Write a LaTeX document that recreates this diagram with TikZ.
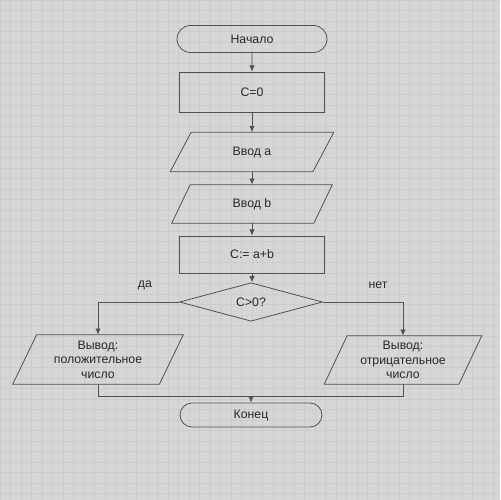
\documentclass[tikz,border=0pt]{standalone}
\usepackage{fontspec}
\setmainfont{Liberation Sans}
\usetikzlibrary{shapes.geometric,shapes.misc,calc,arrows.meta}
\definecolor{bg}{RGB}{214,215,213}
\definecolor{gridc}{RGB}{202,206,203}
\definecolor{ln}{RGB}{78,80,82}
\definecolor{txt}{RGB}{40,40,42}
\begin{document}
\begin{tikzpicture}[x=0.02cm,y=-0.02cm,
  every node/.style={font=\fontsize{7}{8.3}\selectfont, text=txt},
  line/.style={draw=ln, line width=0.45pt},
  arr/.style={line, -{Latex[length=3.5pt,width=3pt]}},
  termbox/.style={rounded rectangle, line, inner sep=0pt},
  procbox/.style={rectangle, line, inner sep=0pt},
  iobox/.style={rectangle, draw=none, inner sep=0pt, align=center},
  decbox/.style={diamond, line, inner sep=0pt}
]
\useasboundingbox (0,0) rectangle (500,500);
\fill[bg] (0,0) rectangle (500,500);
\foreach \i in {0,10.5,...,500} {
  \draw[gridc, line width=0.3pt] (\i,0) -- (\i,500);
  \draw[gridc, line width=0.3pt] (0,\i) -- (500,\i);
}

\node[termbox, minimum width=3.0cm, minimum height=0.54cm] (start) at (252,39) {Начало};
\node[procbox, minimum width=2.9cm, minimum height=0.8cm] (c0) at (252,92) {C=0};
\node[iobox, minimum width=2.84cm, minimum height=0.78cm] (va) at (252,152) {Ввод a};
\node[iobox, minimum width=2.83cm, minimum height=0.76cm] (vb) at (252,204) {Ввод b};
\node[procbox, minimum width=2.9cm, minimum height=0.74cm] (cab) at (252,254.5) {C:= a+b};
\node[decbox, minimum width=2.86cm, minimum height=0.56cm] (dia) at (251,302) {C>0?};
\node[iobox, minimum width=2.92cm, minimum height=0.98cm] (outL) at (98,359.5) {Вывод:\\положительное\\число};
\node[iobox, minimum width=2.68cm, minimum height=0.96cm] (outR) at (403,360) {Вывод:\\отрицательное\\число};
\node[termbox, minimum width=2.84cm, minimum height=0.48cm] (fin) at (251,415) {Конец};
\coordinate (merge) at (251,396);

\node (yes) at (145,285) {да};
\node (no) at (378,285) {нет};

\foreach \n/\s in {va/10.5, vb/9.25, outL/12, outR/11.5}
  \draw[line] ($(\n.north west)+(\s,0)$) -- ($(\n.north east)+(\s,0)$)
     -- ($(\n.south east)+(-\s,0)$) -- ($(\n.south west)+(-\s,0)$) -- cycle;

\draw[arr] (start) -- (c0);
\draw[arr] (c0) -- (va);
\draw[arr] (va) -- (vb);
\draw[arr] (vb) -- (cab);
\draw[arr] (cab) -- (cab.south |- dia.north);
\draw[arr] (dia.west) -| (outL.north);
\draw[arr] (dia.east) -| (outR.north);
\draw[line] (outL.south) |- (merge);
\draw[line] (outR.south) |- (merge);
\draw[arr] (merge) -- (fin);
\end{tikzpicture}
\end{document}
